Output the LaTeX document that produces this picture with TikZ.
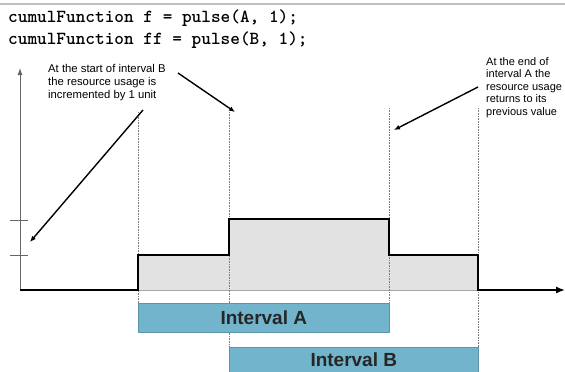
\documentclass[tikz,border=0pt]{standalone}
\usepackage{fontspec}
\setmainfont{Liberation Sans}
\usetikzlibrary{arrows.meta}
\definecolor{barblue}{HTML}{72B4CC}
\definecolor{barline}{HTML}{5E94A8}
\definecolor{fillgray}{HTML}{E2E2E2}
\tikzset{
  codeline/.style={anchor=base west, inner sep=0pt, font=\ttfamily\bfseries\fontsize{18.4}{20}\selectfont},
  note/.style={anchor=north west, inner sep=0pt, align=left, font=\fontsize{11.3}{13.3}\selectfont},
  callout/.style={-{Latex[length=6pt,width=5pt]}, line width=1.4pt, black},
  guide/.style={gray, densely dotted, line width=0.6pt},
  intbar/.style={draw=barline, fill=barblue, line width=0.6pt},
  barlabel/.style={font=\fontsize{19}{22}\selectfont\bfseries, text=black!85},
  stepline/.style={line width=2.8pt, black, line join=miter},
}
\begin{document}
\begin{tikzpicture}[x=1pt,y=-1pt]
\useasboundingbox (0,0) rectangle (565,372);
\draw[gray!50, line width=1.2pt] (0,4) -- (565,4);

\node[codeline] (c1) at (8,23) {cumulFunction f = pulse(A, 1);};
\node[codeline] (c2) at (8,44) {cumulFunction ff = pulse(B, 1);};

% gray area
\fill[fillgray, draw=gray!70, line width=0.6pt] (138,290) -- (138,255) -- (229,255) -- (229,219) -- (389,219) -- (389,255) -- (478,255) -- (478,290) -- cycle;

% guides
\coordinate (gA0) at (138,112); \coordinate (gA1) at (138,303);
\coordinate (gB0) at (229,112); \coordinate (gB1) at (229,347);
\coordinate (gC0) at (389,108); \coordinate (gC1) at (389,303);
\coordinate (gD0) at (478,108); \coordinate (gD1) at (478,347);
\draw[guide] (gA0) -- (gA1);
\draw[guide] (gB0) -- (gB1);
\draw[guide] (gC0) -- (gC1);
\draw[guide] (gD0) -- (gD1);

% y axis
\coordinate (O) at (20,290);
\coordinate (ytop) at (20,68);
\draw[gray!80!black, line width=0.9pt, -{Latex[length=7pt,width=5pt]}] (O) -- (ytop);
\coordinate (t1a) at (10,255); \coordinate (t1b) at (28,255);
\coordinate (t2a) at (10,220); \coordinate (t2b) at (28,220);
\draw[gray!80!black, line width=0.6pt] (t1a) -- (t1b);
\draw[gray!80!black, line width=0.6pt] (t2a) -- (t2b);

% x axis + step
\coordinate (xend) at (565,290);
\draw[stepline] (O) -- (138,290) -- (138,255) -- (229,255) -- (229,219) -- (389,219) -- (389,255) -- (478,255) -- (478,290) -- (552,290);
\draw[line width=1.4pt, -{Latex[length=9pt,width=7pt]}] (548,290) -- (xend);

% interval bars
\node[intbar, minimum width=251pt, minimum height=29pt, anchor=north west, inner sep=0pt] (barA) at (138,303) {};
\node[barlabel] (labA) at (barA.center) {Interval A};
\node[intbar, minimum width=249pt, minimum height=29pt, anchor=north west, inner sep=0pt] (barB) at (229,347) {};
\node[barlabel] (labB) at ([yshift=2pt]barB.center) {Interval B};

% notes
\node[note] (n1) at (48,64) {At the start of interval B\\the resource usage is\\incremented by 1 unit};
\node[note, font=\fontsize{11}{12.6}\selectfont] (n2) at (486,57) {At the end of\\interval A the\\resource usage\\returns to its\\previous value};

% callouts
\coordinate (a1s) at (143,110); \coordinate (a1e) at (30,242);
\coordinate (a2s) at (178,73);  \coordinate (a2e) at (235,112);
\coordinate (a3s) at (478,87);  \coordinate (a3e) at (394,130);
\draw[callout] (a1s) -- (a1e);
\draw[callout] (a2s) -- (a2e);
\draw[callout] (a3s) -- (a3e);
\end{tikzpicture}
\end{document}
